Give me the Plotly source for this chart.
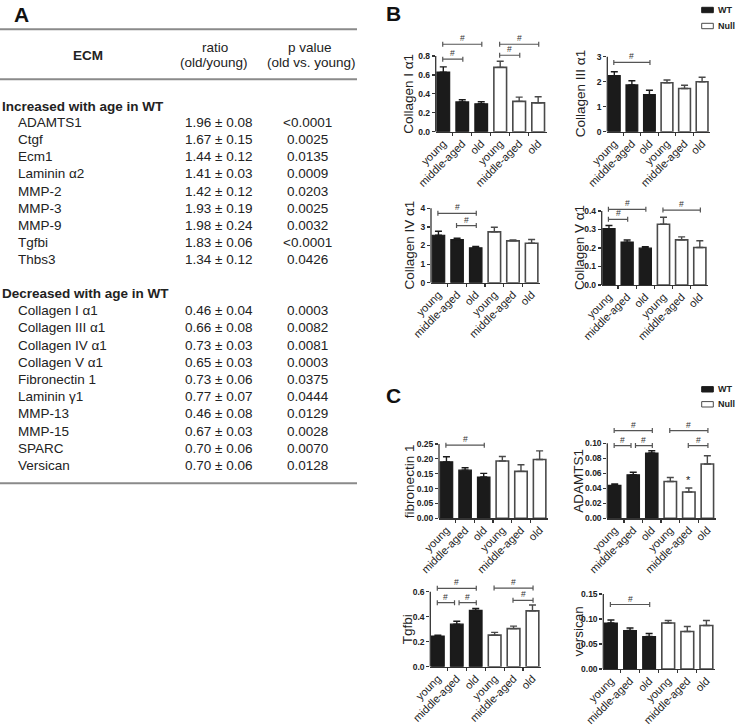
import plotly.graph_objects as go

W, H = 736, 726
FONT = "Liberation Sans, Arial, Helvetica, sans-serif"

# ---------------- data ----------------
ages = ["young", "middle-aged", "old"]
genotypes = ["WT", "Null"]

# Panel B
col1_wt = [0.63, 0.315, 0.295]
col1_wt_sem = [0.055, 0.022, 0.022]
col1_null = [0.68, 0.32, 0.305]
col1_null_sem = [0.065, 0.045, 0.065]
col1_ticks = [0.0, 0.2, 0.4, 0.6, 0.8]
col1_sig = [(0, 2, 0.924), (0, 1, 0.766), (3, 5, 0.924), (3, 4, 0.808)]

col3_wt = [2.24, 1.87, 1.48]
col3_wt_sem = [0.16, 0.17, 0.18]
col3_null = [1.96, 1.73, 2.0]
col3_null_sem = [0.11, 0.13, 0.18]
col3_ticks = [0, 1, 2, 3]
col3_sig = [(0, 2, 2.77)]

col4_wt = [2.55, 2.32, 1.88]
col4_wt_sem = [0.22, 0.07, 0.07]
col4_null = [2.73, 2.25, 2.12]
col4_null_sem = [0.25, 0.05, 0.20]
col4_ticks = [0, 1, 2, 3, 4]
col4_sig = [(0, 2, 3.73), (1, 2, 3.07)]

col5_wt = [0.305, 0.232, 0.199]
col5_wt_sem = [0.017, 0.011, 0.008]
col5_null = [0.328, 0.244, 0.203]
col5_null_sem = [0.038, 0.016, 0.036]
col5_ticks = [0.0, 0.1, 0.2, 0.3, 0.4]
col5_sig = [(0, 2, 0.409), (0, 1, 0.355), (3, 5, 0.405)]

# Panel C
fn1_wt = [0.19, 0.162, 0.139]
fn1_wt_sem = [0.017, 0.008, 0.012]
fn1_null = [0.193, 0.158, 0.198]
fn1_null_sem = [0.015, 0.022, 0.029]
fn1_ticks = [0.0, 0.05, 0.10, 0.15, 0.20, 0.25]
fn1_sig = [(0, 2, 0.246)]

adamts1_wt = [0.044, 0.058, 0.087]
adamts1_wt_sem = [0.0018, 0.0035, 0.003]
adamts1_null = [0.049, 0.035, 0.0725]
adamts1_null_sem = [0.0055, 0.0055, 0.011]
adamts1_ticks = [0.0, 0.02, 0.04, 0.06, 0.08, 0.10]
adamts1_sig = [(0, 2, 0.117), (0, 1, 0.097), (1, 2, 0.097), (3, 5, 0.117), (4, 5, 0.097)]
adamts1_star = [(4, 0.0505)]

tgfbi_wt = [0.245, 0.34, 0.45]
tgfbi_wt_sem = [0.008, 0.024, 0.016]
tgfbi_null = [0.253, 0.305, 0.447]
tgfbi_null_sem = [0.022, 0.02, 0.047]
tgfbi_ticks = [0.0, 0.2, 0.4, 0.6]
tgfbi_sig = [(0, 2, 0.627), (0, 1, 0.512), (1, 2, 0.512), (3, 5, 0.629), (4, 5, 0.531)]

versican_wt = [0.092, 0.077, 0.065]
versican_wt_sem = [0.006, 0.005, 0.006]
versican_null = [0.092, 0.075, 0.087]
versican_null_sem = [0.005, 0.010, 0.010]
versican_ticks = [0.0, 0.05, 0.10, 0.15]
versican_sig = [(0, 2, 0.129)]

# Table (panel A)
table_header = ["ECM", "ratio", "(old/young)", "p value", "(old vs. young)"]
inc_title = "Increased with age in WT"
inc_names = ["ADAMTS1", "Ctgf", "Ecm1", "Laminin α2", "MMP-2", "MMP-3", "MMP-9", "Tgfbi", "Thbs3"]
inc_ratio = ["1.96 ± 0.08", "1.67 ± 0.15", "1.44 ± 0.12", "1.41 ± 0.03", "1.42 ± 0.12",
             "1.93 ± 0.19", "1.98 ± 0.24", "1.83 ± 0.06", "1.34 ± 0.12"]
inc_p = ["<0.0001", "0.0025", "0.0135", "0.0009", "0.0203", "0.0025", "0.0032", "<0.0001", "0.0426"]
dec_title = "Decreased with age in WT"
dec_names = ["Collagen I α1", "Collagen III α1", "Collagen IV α1", "Collagen V α1", "Fibronectin 1",
             "Laminin γ1", "MMP-13", "MMP-15", "SPARC", "Versican"]
dec_ratio = ["0.46 ± 0.04", "0.66 ± 0.08", "0.73 ± 0.03", "0.65 ± 0.03", "0.73 ± 0.06",
             "0.77 ± 0.07", "0.46 ± 0.08", "0.67 ± 0.03", "0.70 ± 0.06", "0.70 ± 0.06"]
dec_p = ["0.0003", "0.0082", "0.0081", "0.0003", "0.0375", "0.0444", "0.0129", "0.0028", "0.0070", "0.0128"]

panels = [
    dict(title="Collagen I α1", wt=col1_wt, wt_err=col1_wt_sem, null=col1_null, null_err=col1_null_sem,
         ticks=col1_ticks, fmt="{:.1f}", sig=col1_sig, star=[]),
    dict(title="Collagen III α1", wt=col3_wt, wt_err=col3_wt_sem, null=col3_null, null_err=col3_null_sem,
         ticks=col3_ticks, fmt="{:.0f}", sig=col3_sig, star=[]),
    dict(title="Collagen IV α1", wt=col4_wt, wt_err=col4_wt_sem, null=col4_null, null_err=col4_null_sem,
         ticks=col4_ticks, fmt="{:.0f}", sig=col4_sig, star=[]),
    dict(title="Collagen V α1", wt=col5_wt, wt_err=col5_wt_sem, null=col5_null, null_err=col5_null_sem,
         ticks=col5_ticks, fmt="{:.1f}", sig=col5_sig, star=[]),
    dict(title="fibronectin 1", wt=fn1_wt, wt_err=fn1_wt_sem, null=fn1_null, null_err=fn1_null_sem,
         ticks=fn1_ticks, fmt="{:.2f}", sig=fn1_sig, star=[]),
    dict(title="ADAMTS1", wt=adamts1_wt, wt_err=adamts1_wt_sem, null=adamts1_null, null_err=adamts1_null_sem,
         ticks=adamts1_ticks, fmt="{:.2f}", sig=adamts1_sig, star=adamts1_star),
    dict(title="Tgfbi", wt=tgfbi_wt, wt_err=tgfbi_wt_sem, null=tgfbi_null, null_err=tgfbi_null_sem,
         ticks=tgfbi_ticks, fmt="{:.1f}", sig=tgfbi_sig, star=[]),
    dict(title="versican", wt=versican_wt, wt_err=versican_wt_sem, null=versican_null, null_err=versican_null_sem,
         ticks=versican_ticks, fmt="{:.2f}", sig=versican_sig, star=[]),
]

# ---------------- layout geometry (pixels) ----------------
geom = [
    dict(ax=435.7, end=546.7, y0=131.7, ytop=56.0, tx=409),
    dict(ax=607.3, end=710.0, y0=131.7, ytop=56.7, tx=580),
    dict(ax=431.0, end=540.0, y0=282.7, ytop=208.3, tx=409),
    dict(ax=601.7, end=708.0, y0=285.0, ytop=211.0, tx=579),
    dict(ax=439.0, end=548.0, y0=518.3, ytop=444.0, tx=409),
    dict(ax=607.3, end=715.7, y0=518.3, ytop=443.3, tx=579),
    dict(ax=430.3, end=541.0, y0=666.7, ytop=591.7, tx=407),
    dict(ax=603.3, end=715.0, y0=669.0, ytop=594.0, tx=578),
]

XR = [-0.4, 5.45]
BAR_W = 0.67
AX_COL = "#333333"
WT_COL = "#1b1b1b"
NULL_LINE = "#4a4a4a"

def px(x):
    return x / W

def py(y):
    return 1 - y / H

fig = go.Figure()
layout = dict(
    template="none",
    width=W, height=H, margin=dict(l=0, r=0, t=0, b=0, pad=0, autoexpand=False),
    paper_bgcolor="white", plot_bgcolor="white", showlegend=False,
    barmode="overlay", font=dict(family=FONT, color="#222222"),
)
shapes = []
annotations = []

for i, (p, g) in enumerate(zip(panels, geom)):
    n = i + 1
    xa = "x" if n == 1 else f"x{n}"
    ya = "y" if n == 1 else f"y{n}"
    xk = "xaxis" if n == 1 else f"xaxis{n}"
    yk = "yaxis" if n == 1 else f"yaxis{n}"

    ymax_tick = p["ticks"][-1]
    scale = (g["y0"] - g["ytop"]) / ymax_tick
    top_level = max([s[2] for s in p["sig"]] + [ymax_tick])
    dom_top_px = min(g["ytop"], g["y0"] - top_level * scale) - 8
    yr_top = (g["y0"] - dom_top_px) / scale

    pos_wt = list(range(len(ages)))
    pos_null = [len(ages) + k for k in range(len(ages))]
    n_pos = len(pos_wt) + len(pos_null)

    fig.add_trace(go.Bar(
        x=pos_wt, y=p["wt"], width=BAR_W, xaxis=xa, yaxis=ya, name="WT",
        marker=dict(color=WT_COL, line=dict(color=WT_COL, width=1.2)),
        error_y=dict(type="data", array=p["wt_err"], arrayminus=[0] * 3, symmetric=False,
                     color=WT_COL, thickness=1.4, width=3.5),
    ))
    fig.add_trace(go.Bar(
        x=pos_null, y=p["null"], width=BAR_W, xaxis=xa, yaxis=ya, name="Null",
        marker=dict(color="white", line=dict(color=NULL_LINE, width=1.6)),
        error_y=dict(type="data", array=p["null_err"], arrayminus=[0] * 3, symmetric=False,
                     color=NULL_LINE, thickness=1.4, width=3.5),
    ))

    layout[xk] = dict(
        domain=[px(g["ax"]), px(g["end"])], range=XR, anchor=ya, automargin=False,
        tickmode="array", tickvals=pos_wt + pos_null, ticktext=ages * 2,
        tickangle=-45, tickfont=dict(size=11, family=FONT, color="#222"),
        showline=True, linecolor=AX_COL, linewidth=1.3,
        ticks="outside", ticklen=0.01, tickwidth=0, tickcolor="rgba(0,0,0,0)",
        minor=dict(tickmode="array", tickvals=[k + 0.5 for k in range(n_pos)],
                   ticks="outside", ticklen=3, tickwidth=1.1, tickcolor=AX_COL, showgrid=False),
        showgrid=False, zeroline=False, fixedrange=True,
    )
    layout[yk] = dict(
        domain=[py(g["y0"]), py(dom_top_px)], range=[0, yr_top], anchor=xa, automargin=False,
        tickmode="array", tickvals=p["ticks"], ticktext=[p["fmt"].format(t) for t in p["ticks"]],
        tickfont=dict(size=8.5, family=FONT, color="#222", weight="bold"),
        showline=False, ticks="outside", ticklen=3, tickwidth=1.2, tickcolor=AX_COL,
        showgrid=False, zeroline=False, fixedrange=True,
    )
    # y axis line only up to the top tick
    shapes.append(dict(type="line", xref=f"{xa} domain", yref=ya, x0=0, x1=0, y0=0, y1=ymax_tick,
                       line=dict(color=AX_COL, width=1.3)))
    # axis title
    annotations.append(dict(text=p["title"], xref="paper", yref="paper", x=px(g["tx"]),
                            y=py((g["y0"] + g["ytop"]) / 2), textangle=-90, showarrow=False,
                            xanchor="center", yanchor="middle",
                            font=dict(size=13.5, family=FONT, color="#222")))
    # significance brackets
    for (a, b, lvl) in p["sig"]:
        x0, x1 = a - 0.03, b + 0.03
        for (a2, b2, l2) in p["sig"]:
            if (a2, b2, l2) == (a, b, lvl) or abs(l2 - lvl) > 1e-9:
                continue
            if b2 == a:
                x0 = a + 0.12
            if a2 == b:
                x1 = b - 0.12
        shapes.append(dict(type="line", xref=xa, yref=ya, x0=x0, x1=x1, y0=lvl, y1=lvl,
                           line=dict(color="#555555", width=1.2)))
        for xe in (x0, x1):
            shapes.append(dict(type="line", xref=xa, yref=ya, x0=xe, x1=xe,
                               ysizemode="pixel", yanchor=lvl, y0=-2.5, y1=2.5,
                               line=dict(color="#555555", width=1.2)))
        annotations.append(dict(text="#", xref=xa, yref=ya, x=(x0 + x1) / 2, y=lvl, yshift=-1,
                                showarrow=False, xanchor="center", yanchor="bottom",
                                font=dict(size=8.5, family=FONT, color="#333")))
    for (k, lvl) in p["star"]:
        annotations.append(dict(text="*", xref=xa, yref=ya, x=k, y=lvl, showarrow=False,
                                xanchor="center", yanchor="middle",
                                font=dict(size=11, family=FONT, color="#222")))

# ---------------- legends ----------------
for (wy, ny) in [(10.0, 26.0), (389.3, 404.3)]:
    shapes.append(dict(type="rect", xref="paper", yref="paper", x0=px(701.7), x1=px(713.3),
                       y0=py(wy + 2.7), y1=py(wy - 2.7), fillcolor=WT_COL, line=dict(color=WT_COL, width=1)))
    shapes.append(dict(type="rect", xref="paper", yref="paper", x0=px(701.7), x1=px(713.3),
                       y0=py(ny + 2.7), y1=py(ny - 2.7), fillcolor="white", line=dict(color=NULL_LINE, width=1)))
    annotations.append(dict(text=genotypes[0], xref="paper", yref="paper", x=px(716), y=py(wy),
                            xanchor="left", yanchor="middle", showarrow=False,
                            font=dict(size=9, family=FONT, color="#222", weight="bold")))
    annotations.append(dict(text=genotypes[1], xref="paper", yref="paper", x=px(716), y=py(ny),
                            xanchor="left", yanchor="middle", showarrow=False,
                            font=dict(size=9, family=FONT, color="#222", weight="bold")))

# ---------------- panel letters ----------------
for (letter, lx, ly) in [("A", 12, 14.5), ("B", 384, 14), ("C", 384, 395.5)]:
    annotations.append(dict(text=f"<b>{letter}</b>", xref="paper", yref="paper", x=px(lx), y=py(ly),
                            xanchor="left", yanchor="middle", showarrow=False,
                            font=dict(size=21, family=FONT, color="#111")))

# ---------------- table (panel A) ----------------
TCOL = "#222222"
TS = 13.5
for yy in (29.3, 79.3, 483.3):
    shapes.append(dict(type="line", xref="paper", yref="paper", x0=0, x1=px(357), y0=py(yy), y1=py(yy),
                       line=dict(color="#8a8a8a", width=2)))

def tann(text, x, y, anchor="left", bold=False):
    annotations.append(dict(text=f"<b>{text}</b>" if bold else text, xref="paper", yref="paper",
                            x=px(x), y=py(y), xanchor=anchor, yanchor="middle", showarrow=False,
                            font=dict(size=TS, family=FONT, color=TCOL)))

tann(table_header[0], 88, 55, "center", bold=True)
tann(table_header[1], 215, 47.5, "center")
tann(table_header[2], 214, 62.3, "center")
tann(table_header[3], 310, 47.5, "center")
tann(table_header[4], 311.5, 62.3, "center")

ROW = 17.2
tann(inc_title, 0, 106, "left", bold=True)
for k, (nm, r, pv) in enumerate(zip(inc_names, inc_ratio, inc_p)):
    yy = 122.3 + k * ROW
    tann(nm, 16, yy)
    tann(r, 218.5, yy, "center")
    tann(pv, 307.5, yy, "center")

tann(dec_title, 0, 293.3, "left", bold=True)
for k, (nm, r, pv) in enumerate(zip(dec_names, dec_ratio, dec_p)):
    yy = 310.7 + k * ROW
    tann(nm, 16, yy)
    tann(r, 218.5, yy, "center")
    tann(pv, 307.5, yy, "center")

layout["shapes"] = shapes
layout["annotations"] = annotations
fig.update_layout(**layout)
fig.write_html(
    "out.html",
    config={"displayModeBar": False, "staticPlot": True},
    post_script="document.body.style.margin='0px';document.body.style.padding='0px';",
)
